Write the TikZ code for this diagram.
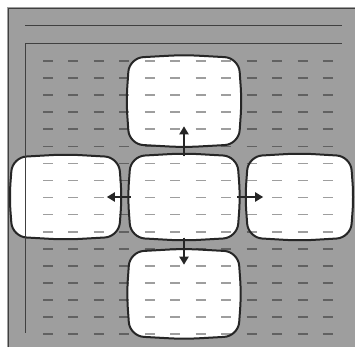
\documentclass[tikz,border=0pt]{standalone}
\usetikzlibrary{arrows.meta, positioning, calc}

\begin{document}
\begin{tikzpicture}[
  x=1pt, y=1pt,
  screen/.style={rectangle, inner sep=0pt, minimum width=106pt, minimum height=81pt},
  screenpath/.style={insert path={(#1.north west) -- ($(#1.north)+(0,3)$) -- (#1.north east)
      -- ($(#1.east)+(3,0)$) -- (#1.south east) -- ($(#1.south)+(0,-3)$)
      -- (#1.south west) -- ($(#1.west)+(-3,0)$) -- cycle}},
  outline/.style={draw=black!85, line width=2pt, rounded corners=14pt},
  rule/.style={draw=black!75, line width=1pt},
  dashmark/.style={black, opacity=0.38, line width=1.6pt},
  arrow/.style={-{Triangle[length=8pt, width=9pt]}, line width=2.2pt, draw=black!85, fill=black!85}
]
\useasboundingbox (0,0) rectangle (358,349);

% page
\fill[black!38] (7,2) rectangle (355,342);
\draw[rule] (8,2) -- (8,340) -- (355,340);
\draw[rule] (25,323) -- (342,323);
\draw[rule] (25,306) -- (342,306);

% screens
\node[screen] (mid) at (184,152) {};
\node[screen, minimum width=109pt, minimum height=86pt, above=12pt of mid] (top) {};
\node[screen, minimum height=79pt, left=12pt of mid] (left) {};
\node[screen, minimum width=102pt, right=11pt of mid] (right) {};
\node[screen, minimum width=108pt, minimum height=84pt, below=14pt of mid] (bot) {};

\foreach \n in {top,left,mid,right,bot}
  \fill[white, rounded corners=14pt, screenpath=\n];

% text lines
\foreach \i in {0,...,16}
  \foreach \j in {0,...,11}
    \draw[dashmark] ({43+25.45*\j}, {288-17.07*\i}) -- ++(10,0);

\foreach \n in {top,left,mid,right,bot}
  \draw[outline, screenpath=\n];

\draw[rule] (25,306) -- (25,16);

% arrows
\coordinate[above=30pt of mid.north] (upEnd);
\coordinate[left=24pt of mid.west] (leftEnd);
\coordinate[right=26pt of mid.east] (rightEnd);
\coordinate[below=27pt of mid.south] (downEnd);

\draw[arrow] (mid.north) -- (upEnd);
\draw[arrow] (mid.west) -- (leftEnd);
\draw[arrow] (mid.east) -- (rightEnd);
\draw[arrow] (mid.south) -- (downEnd);

\end{tikzpicture}
\end{document}
